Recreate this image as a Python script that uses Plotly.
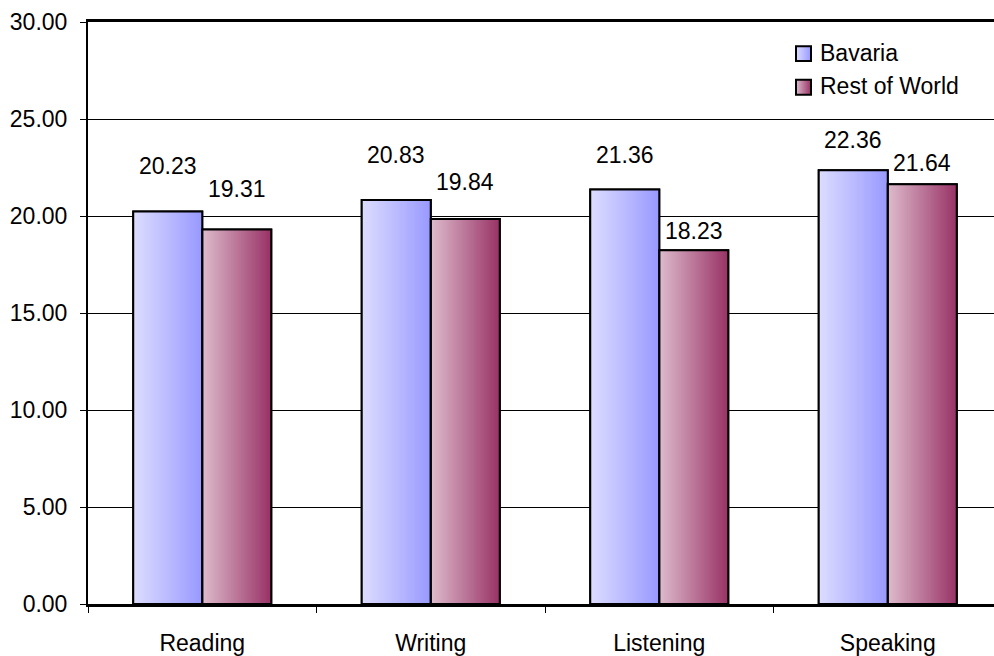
import base64
import struct
import zlib

import plotly.graph_objects as go

# ---- data -------------------------------------------------------------
categories = ["Reading", "Writing", "Listening", "Speaking"]
bavaria = [20.23, 20.83, 21.36, 22.36]
rest_of_world = [19.31, 19.84, 18.23, 21.64]
series_names = ["Bavaria", "Rest of World"]

# ---- style ------------------------------------------------------------
BASE_COLORS = [(153, 153, 255), (153, 51, 102)]
FONT = dict(family="Liberation Sans, Arial, sans-serif", size=23, color="black")
BAR_GAP = 0.396
# vertical offset (px) of each value label above its bar top
LABEL_SHIFT = [[46, 45, 35, 30], [40, 37, 19, 21]]

W, H = 994, 656
M_L, M_R, M_T, M_B = 88, 0, 22, 45
CAT_PX = 228.5


def gradient_png(c_left, c_right, n=128):
    """1-pixel-high horizontal RGB gradient encoded as a PNG data URI."""
    row = bytearray([0])
    for k in range(n):
        t = k / (n - 1)
        row += bytes(int(round(a + (b - a) * t)) for a, b in zip(c_left, c_right))
    raw = bytes(row) * 2

    def chunk(tag, data):
        body = tag + data
        return struct.pack(">I", len(data)) + body + struct.pack(">I", zlib.crc32(body) & 0xFFFFFFFF)

    png = b"\x89PNG\r\n\x1a\n"
    png += chunk(b"IHDR", struct.pack(">IIBBBBB", n, 2, 8, 2, 0, 0, 0))
    png += chunk(b"IDAT", zlib.compress(raw))
    png += chunk(b"IEND", b"")
    return "data:image/png;base64," + base64.b64encode(png).decode()


def lighten(c, f=2 / 3):
    return tuple(v + (255 - v) * f for v in c)


sources = [gradient_png(lighten(c), c) for c in BASE_COLORS]
hexes = ["#%02x%02x%02x" % c for c in BASE_COLORS]

values = [bavaria, rest_of_world]
bar_w = (1 - BAR_GAP) / 2

fig = go.Figure()
for s, (name, vals) in enumerate(zip(series_names, values)):
    fig.add_trace(go.Bar(
        x=categories, y=vals, name=name,
        marker=dict(color=hexes[s], line=dict(color="black", width=2)),
        showlegend=False, hoverinfo="x+y",
    ))

images, shapes, annotations = [], [], []
for s, vals in enumerate(values):
    for i, v in enumerate(vals):
        x0 = i - bar_w + s * bar_w
        images.append(dict(
            source=sources[s], xref="x", yref="y", x=x0, y=v,
            sizex=bar_w, sizey=v, sizing="stretch",
            xanchor="left", yanchor="top", layer="above",
        ))
        shapes.append(dict(
            type="rect", xref="x", yref="y", x0=x0, x1=x0 + bar_w, y0=0, y1=v,
            line=dict(color="black", width=2), layer="above",
        ))
        annotations.append(dict(
            x=x0 + bar_w / 2, y=v, xref="x", yref="y", text=f"{v:.2f}",
            showarrow=False, yanchor="middle", yshift=LABEL_SHIFT[s][i], font=FONT,
        ))

# legend: gradient swatches with a black frame, plus labels
plot_w = W - M_L - M_R
plot_h = H - M_T - M_B


def px_x(p):
    return (p - M_L) / plot_w


def px_y(p):
    return (H - M_B - p) / plot_h


for s, name in enumerate(series_names):
    cy = 54 + 34 * s
    x0, x1 = px_x(796), px_x(811)
    y0, y1 = px_y(cy + 7.5), px_y(cy - 7.5)
    images.append(dict(
        source=sources[s], xref="paper", yref="paper", x=x0, y=y1,
        sizex=x1 - x0, sizey=y1 - y0, sizing="stretch",
        xanchor="left", yanchor="top", layer="above",
    ))
    shapes.append(dict(
        type="rect", xref="paper", yref="paper", x0=x0, x1=x1, y0=y0, y1=y1,
        line=dict(color="black", width=2), layer="above",
    ))
    annotations.append(dict(
        x=px_x(818), y=px_y(cy - 1), xref="paper", yref="paper", text=name,
        showarrow=False, xanchor="left", yanchor="middle", font=FONT,
    ))

fig.update_layout(
    width=W, height=H,
    margin=dict(l=M_L, r=M_R, t=M_T, b=M_B, pad=0),
    paper_bgcolor="white", plot_bgcolor="white",
    barmode="group", bargap=BAR_GAP, bargroupgap=0,
    font=FONT,
    images=images, shapes=shapes, annotations=annotations,
    xaxis=dict(
        type="category", range=[-0.5, -0.5 + plot_w / CAT_PX],
        tickson="boundaries", ticks="outside", ticklen=6, tickwidth=1, tickcolor="black",
        showline=True, linewidth=3, linecolor="black", mirror=True,
        showgrid=False, ticklabelstandoff=16, tickfont=FONT,
    ),
    yaxis=dict(
        range=[0, 30], dtick=5, tickformat=".2f",
        ticks="outside", ticklen=6, tickwidth=1, tickcolor="black",
        showline=True, linewidth=2, linecolor="black",
        showgrid=True, gridcolor="black", gridwidth=1, zeroline=False,
        ticklabelstandoff=8, tickfont=FONT,
    ),
)

fig.write_html("out.html")
